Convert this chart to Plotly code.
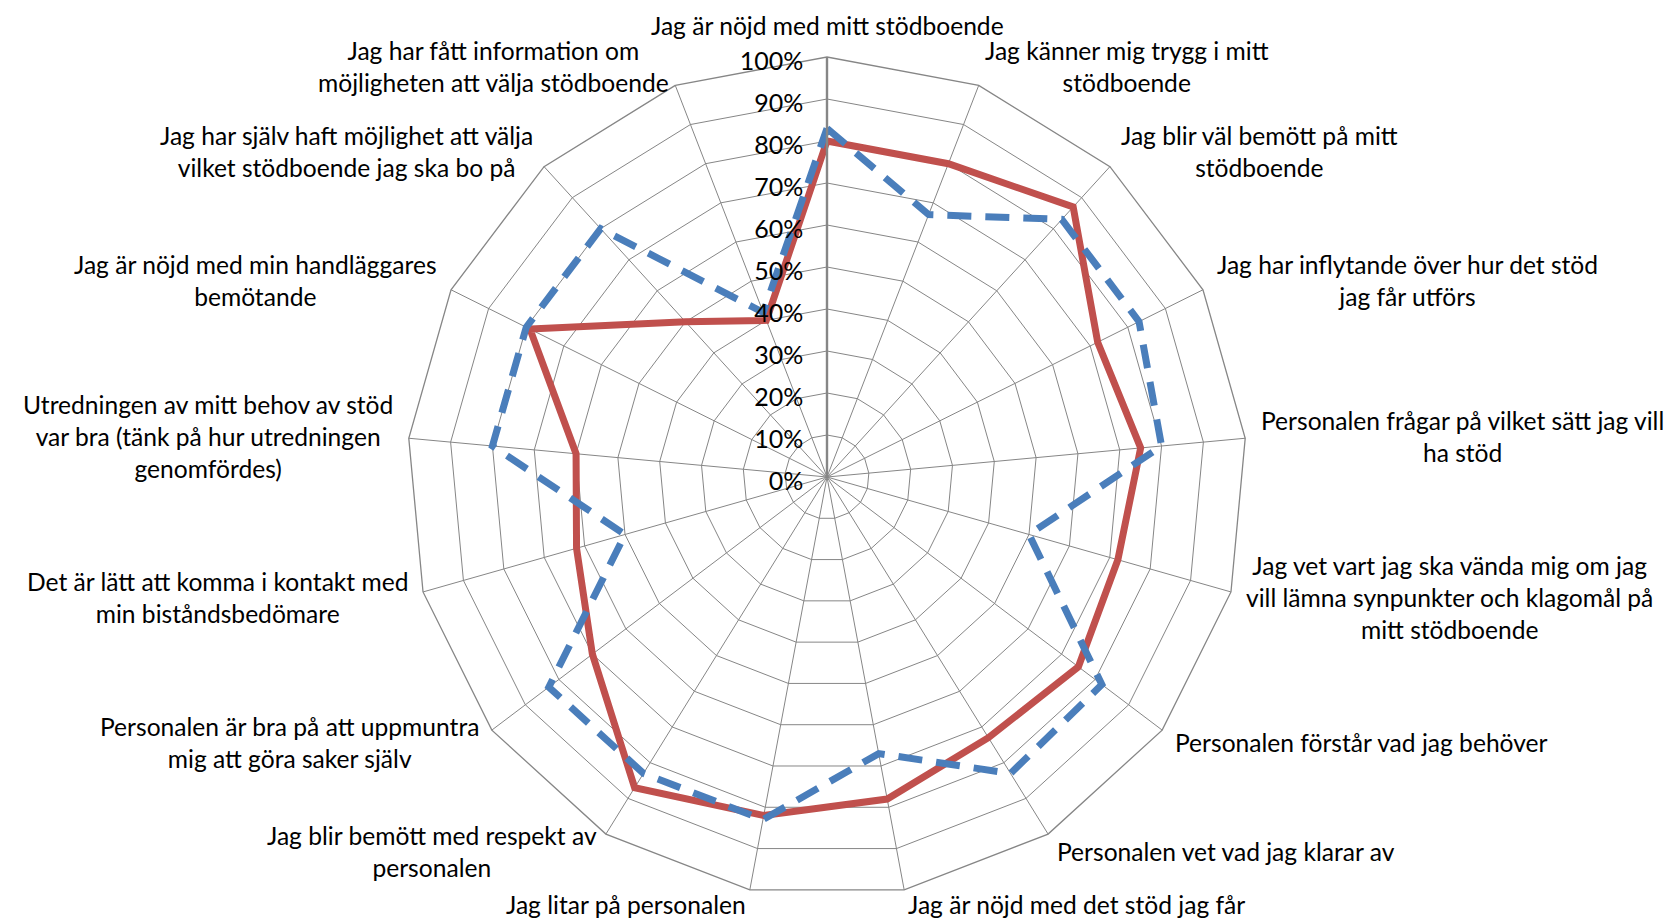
import math
import plotly.graph_objects as go

# ---- data ----
categories = [
    "Jag är nöjd med mitt stödboende",
    "Jag känner mig trygg i mitt<br>stödboende",
    "Jag blir väl bemött på mitt<br>stödboende",
    "Jag har inflytande över hur det stöd<br>jag får utförs",
    "Personalen frågar på vilket sätt jag vill<br>ha stöd",
    "Jag vet vart jag ska vända mig om jag<br>vill lämna synpunkter och klagomål på<br>mitt stödboende",
    "Personalen förstår vad jag behöver",
    "Personalen vet vad jag klarar av",
    "Jag är nöjd med det stöd jag får",
    "Jag litar på personalen",
    "Jag blir bemött med respekt av<br>personalen",
    "Personalen är bra på att uppmuntra<br>mig att göra saker själv",
    "Det är lätt att komma i kontakt med<br>min biståndsbedömare",
    "Utredningen av mitt behov av stöd<br>var bra (tänk på hur utredningen<br>genomfördes)",
    "Jag är nöjd med min handläggares<br>bemötande",
    "Jag har själv haft möjlighet att välja<br>vilket stödboende jag ska bo på",
    "Jag har fått information om<br>möjligheten att välja stödboende",
]
serie_blue = [0.83, 0.67, 0.83, 0.83, 0.80, 0.50, 0.82, 0.83, 0.67, 0.83,
              0.83, 0.83, 0.50, 0.80, 0.80, 0.80, 0.42]
serie_red = [0.80, 0.80, 0.87, 0.72, 0.75, 0.72, 0.75, 0.73, 0.78, 0.82,
             0.87, 0.70, 0.62, 0.60, 0.79, 0.50, 0.40]
radial_ticks = [0, 0.1, 0.2, 0.3, 0.4, 0.5, 0.6, 0.7, 0.8, 0.9, 1.0]

# ---- layout geometry (page body has an 8px margin) ----
W, H = 1669, 913
CX, CY, R = 819, 469, 420
FONT = "Lato, 'Open Sans', sans-serif"
FS = 24.6
GRID = "#868686"

fig = go.Figure()

def closed(seq):
    return list(seq) + [seq[0]]

fig.add_trace(go.Scatterpolar(
    r=closed(serie_red), theta=closed(categories), mode="lines",
    line=dict(color="#C0504D", width=7), name="Serie 2", showlegend=False,
    hoverinfo="skip"))
fig.add_trace(go.Scatterpolar(
    r=closed(serie_blue), theta=closed(categories), mode="lines",
    line=dict(color="#4A7EBB", width=7, dash="24px,14px"), name="Serie 1",
    showlegend=False, hoverinfo="skip"))

xd = [(CX - R) / W, (CX + R) / W]
yd = [1 - (CY + R) / H, 1 - (CY - R) / H]

fig.update_layout(
    width=W, height=H,
    margin=dict(l=0, r=0, t=0, b=0),
    paper_bgcolor="white", plot_bgcolor="white",
    font=dict(family=FONT, size=FS, color="#000000"),
    polar=dict(
        domain=dict(x=xd, y=yd),
        bgcolor="white",
        gridshape="linear",
        angularaxis=dict(
            type="category", categoryarray=categories,
            direction="clockwise", rotation=90,
            showticklabels=False, ticks="",
            showgrid=True, gridcolor=GRID, gridwidth=1.3,
            showline=True, linecolor=GRID, linewidth=1.3,
        ),
        radialaxis=dict(
            range=[0, 1], tickvals=radial_ticks, tickformat=".0%",
            ticksuffix="\u00a0",
            angle=90, side="counterclockwise", ticks="",
            showgrid=True, gridcolor=GRID, gridwidth=1.3,
            showline=True, linecolor=GRID, linewidth=2.4,
            tickfont=dict(family=FONT, size=25, color="#000000"),
        ),
    ),
)

# category labels just outside the outer polygon
n = len(categories)
OFF_X, OFF_Y = 15, 20
for k, lab in enumerate(categories):
    a = 2 * math.pi * k / n
    px = CX + R * math.sin(a) + OFF_X * math.sin(a)
    py = CY - R * math.cos(a) - OFF_Y * math.cos(a)
    if k == 0:
        xa, ya = "center", "bottom"
        py = CY - R - 16
    elif k <= n // 2:
        xa, ya = "left", "middle"
    else:
        xa, ya = "right", "middle"
    if ya == "middle":
        py = min(py, H - 17)
    fig.add_annotation(
        x=px / W, y=1 - py / H, xref="paper", yref="paper",
        text=lab, showarrow=False, xanchor=xa, yanchor=ya, align="center",
        font=dict(family=FONT, size=FS, color="#000000"), borderpad=0)

fig.write_html("out.html")
